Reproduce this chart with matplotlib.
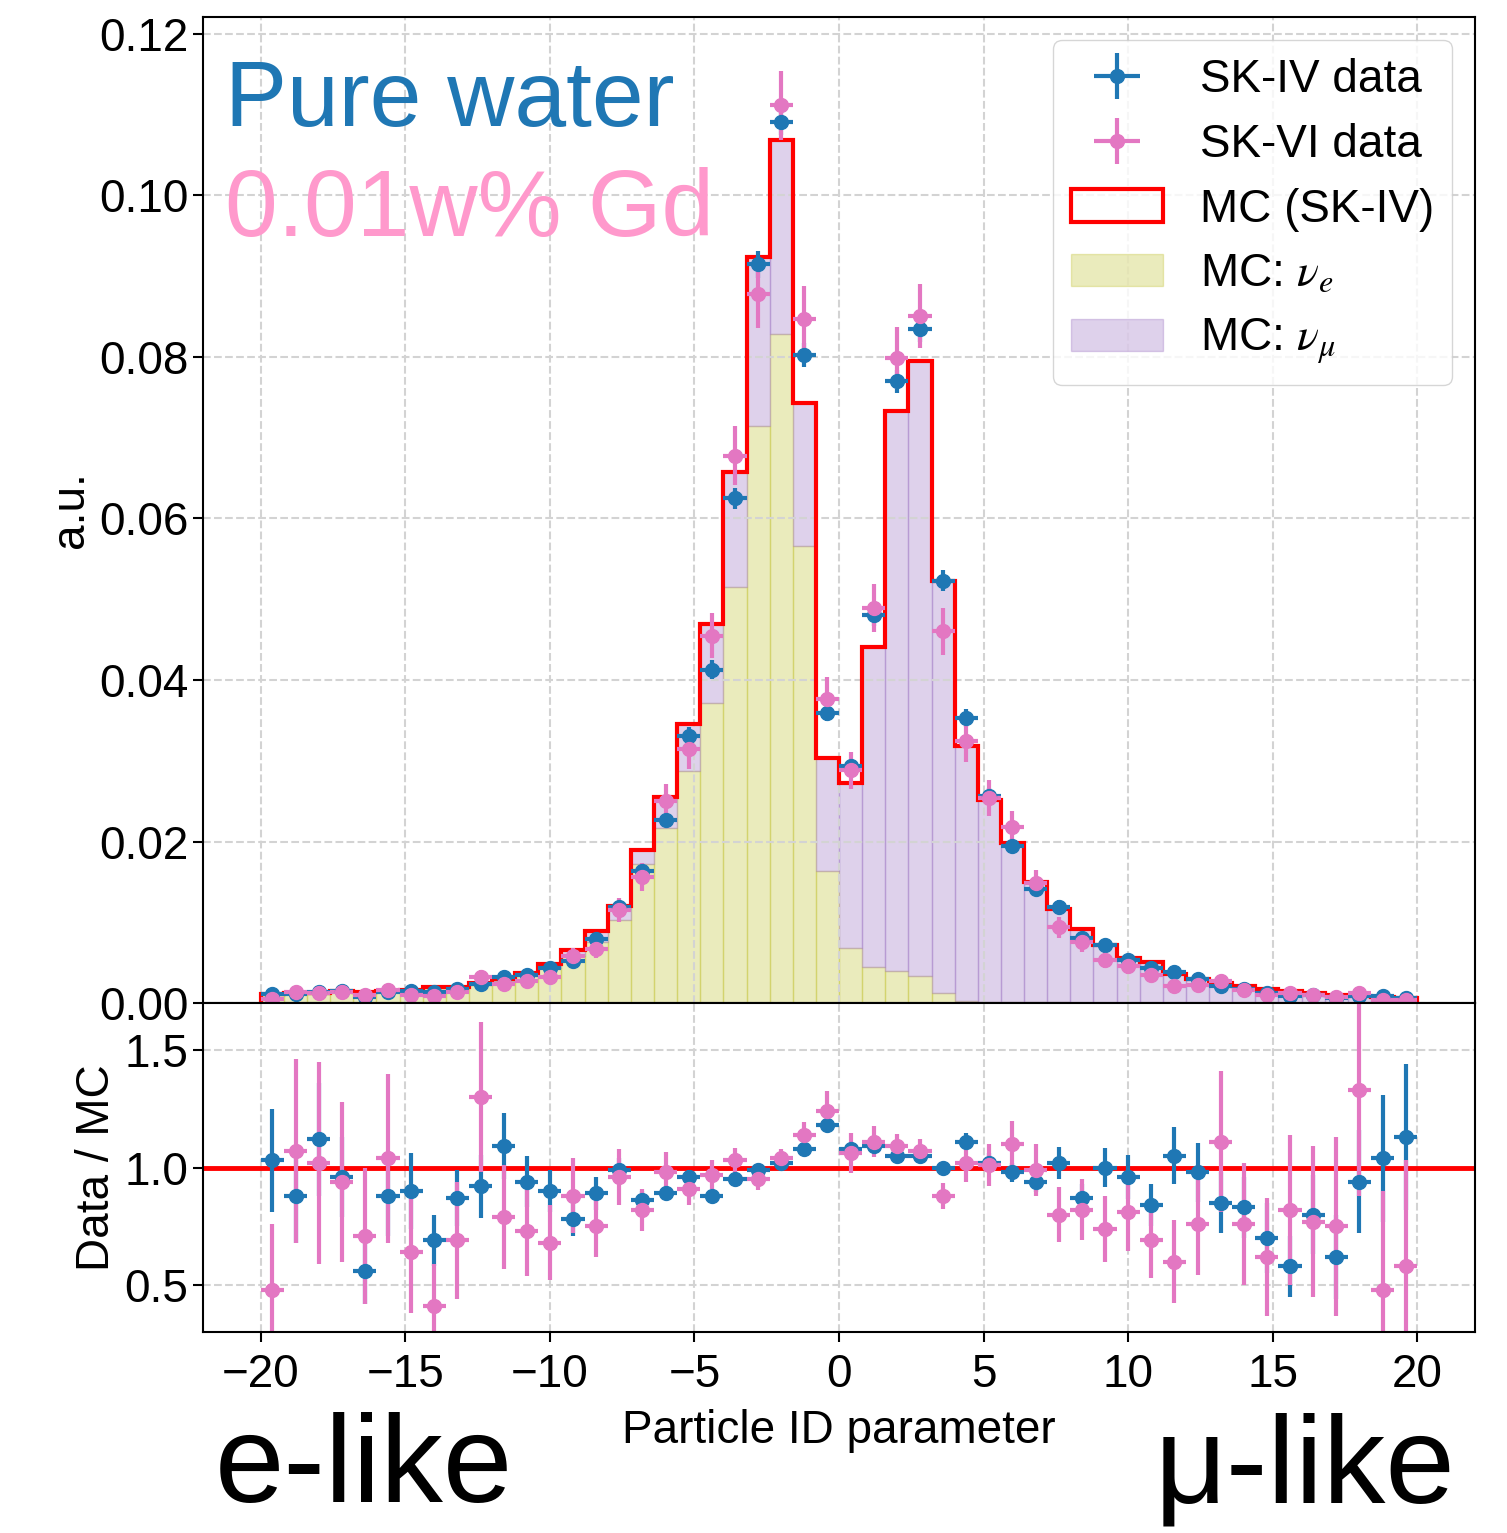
import numpy as np
import matplotlib.pyplot as plt

plt.rcParams['font.family'] = ['Liberation Sans', 'DejaVu Sans']
plt.rcParams['mathtext.fontset'] = 'stix'

# 50 bins of PID parameter from -20 to 20
bin_edges = np.linspace(-20, 20, 51)

# MC (SK-IV) total and nu_e part, normalised
mc_total = [0.0011, 0.0013, 0.0012, 0.0015, 0.0014, 0.0015, 0.0016, 0.0020, 0.0020, 0.0025,
            0.0030, 0.0037, 0.0048, 0.0066, 0.0089, 0.0120, 0.0190, 0.0255, 0.0345, 0.0469,
            0.0658, 0.0924, 0.1069, 0.0743, 0.0304, 0.0272, 0.0441, 0.0733, 0.0795, 0.0523,
            0.0318, 0.0251, 0.0198, 0.0150, 0.0117, 0.0092, 0.0072, 0.0056, 0.0051, 0.0036,
            0.0030, 0.0025, 0.0021, 0.0017, 0.0015, 0.0013, 0.0010, 0.0009, 0.0008, 0.0006]
mc_nue = [0.0010, 0.0012, 0.0011, 0.0014, 0.0013, 0.0014, 0.0015, 0.0018, 0.0018, 0.0022,
          0.0027, 0.0033, 0.0043, 0.0058, 0.0076, 0.0103, 0.0172, 0.0217, 0.0287, 0.0371,
          0.0515, 0.0714, 0.0828, 0.0566, 0.0164, 0.0068, 0.0045, 0.0040, 0.0034, 0.0013,
          0.0003, 0.0001, 0.0001, 0.0001, 0.0001, 0.0, 0.0, 0.0, 0.0, 0.0,
          0.0, 0.0, 0.0, 0.0, 0.0, 0.0, 0.0, 0.0, 0.0, 0.0]

# Data / MC ratios and their errors
ratio_sk4 = [1.03, 0.88, 1.12, 0.96, 0.56, 0.88, 0.90, 0.69, 0.87, 0.92,
             1.09, 0.94, 0.90, 0.78, 0.89, 0.99, 0.86, 0.89, 0.96, 0.88,
             0.95, 0.99, 1.02, 1.08, 1.18, 1.08, 1.09, 1.05, 1.05, 1.00,
             1.11, 1.02, 0.98, 0.94, 1.02, 0.87, 1.00, 0.96, 0.84, 1.05,
             0.98, 0.85, 0.83, 0.70, 0.58, 0.80, 0.62, 0.94, 1.04, 1.13]
err_sk4 = [0.22, 0.20, 0.24, 0.17, 0.14, 0.17, 0.16, 0.11, 0.12, 0.135,
           0.14, 0.11, 0.09, 0.07, 0.07, 0.05, 0.04, 0.03, 0.03, 0.025,
           0.02, 0.018, 0.015, 0.02, 0.03, 0.03, 0.03, 0.02, 0.02, 0.025,
           0.035, 0.04, 0.04, 0.045, 0.067, 0.06, 0.085, 0.094, 0.09, 0.122,
           0.125, 0.13, 0.13, 0.15, 0.13, 0.17, 0.18, 0.22, 0.27, 0.31]
ratio_sk6 = [0.48, 1.07, 1.02, 0.94, 0.71, 1.04, 0.64, 0.41, 0.69, 1.30,
             0.79, 0.73, 0.68, 0.88, 0.75, 0.96, 0.82, 0.98, 0.91, 0.97,
             1.03, 0.95, 1.04, 1.14, 1.24, 1.06, 1.11, 1.09, 1.07, 0.88,
             1.02, 1.01, 1.10, 0.99, 0.80, 0.82, 0.74, 0.81, 0.69, 0.60,
             0.76, 1.11, 0.76, 0.62, 0.82, 0.77, 0.75, 1.33, 0.48, 0.58]
err_sk6 = [0.28, 0.39, 0.43, 0.34, 0.29, 0.36, 0.26, 0.18, 0.25, 0.32,
           0.22, 0.19, 0.16, 0.16, 0.13, 0.12, 0.09, 0.085, 0.07, 0.06,
           0.055, 0.045, 0.04, 0.055, 0.087, 0.085, 0.067, 0.052, 0.05, 0.056,
           0.08, 0.088, 0.10, 0.11, 0.115, 0.13, 0.14, 0.167, 0.16, 0.176,
           0.218, 0.30, 0.26, 0.25, 0.32, 0.32, 0.38, 0.45, 0.42, 0.45]

centers = 0.5 * (bin_edges[1:] + bin_edges[:-1])
half_w = 0.5 * (bin_edges[1] - bin_edges[0])
mc = np.array(mc_total)
nue = np.array(mc_nue)
numu = mc - nue
data_sk4 = np.array(ratio_sk4) * mc
data_sk6 = np.array(ratio_sk6) * mc
derr_sk4 = np.array(err_sk4) * mc
derr_sk6 = np.array(err_sk6) * mc

fs = 33
fig = plt.figure(figsize=(15.07, 15.33), dpi=100)
gs = fig.add_gridspec(2, 1, height_ratios=[986, 329], hspace=0,
                      left=0.1347, right=0.9788, top=0.9889, bottom=0.1311)
ax = fig.add_subplot(gs[0])
ax2 = fig.add_subplot(gs[1], sharex=ax)

# stacked MC components
colors = ['tab:olive', 'tab:purple']
_, _, stacks = ax.hist([centers, centers], bins=bin_edges, weights=[nue, numu], stacked=True,
                       color=colors, alpha=0.3, label=['MC: $\\nu_e$', 'MC: $\\nu_\\mu$'])
for cont, c in zip(stacks, colors):
    for p in cont:
        p.set_edgecolor(c)
        p.set_linewidth(1)
_, _, step = ax.hist(centers, bins=bin_edges, weights=mc, histtype='step', color='red',
                     lw=3, label='MC (SK-IV)')

h4 = ax.errorbar(centers, data_sk4, xerr=half_w, yerr=derr_sk4, fmt='o', color='tab:blue',
                 ms=10, elinewidth=3, label='SK-IV data')
h6 = ax.errorbar(centers, data_sk6, xerr=half_w, yerr=derr_sk6, fmt='o', color='tab:pink',
                 ms=10, elinewidth=3, label='SK-VI data')

ax.legend(handles=[h4, h6, step[0], stacks[0][0], stacks[1][0]], loc='upper right',
          fontsize=fs, labelspacing=0.45)

ax.text(0.017, 0.889, 'Pure water', transform=ax.transAxes, fontsize=67,
        color='tab:blue', va='baseline')
ax.text(0.017, 0.778, '0.01w% Gd', transform=ax.transAxes, fontsize=68,
        color='#ff99cc', va='baseline')

ax.set_xlim(-22, 22)
ax.set_ylim(0, 0.1221)
ax.set_yticks(np.arange(0, 0.121, 0.02))
ax.yaxis.set_major_formatter(plt.FormatStrFormatter('%.2f'))
ax.set_ylabel('a.u.', fontsize=fs)
ax.tick_params(axis='x', labelbottom=False, length=0)
ax.tick_params(axis='y', labelsize=fs, length=7, width=1.5)
ax.grid(True, ls='--', color='lightgray', lw=1.5)

# ratio panel
ax2.axhline(1.0, color='red', lw=3.5)
ax2.errorbar(centers, ratio_sk4, xerr=half_w, yerr=err_sk4, fmt='o', color='tab:blue',
             ms=10, elinewidth=3)
ax2.errorbar(centers, ratio_sk6, xerr=half_w, yerr=err_sk6, fmt='o', color='tab:pink',
             ms=10, elinewidth=3)
ax2.set_ylim(0.3, 1.7)
ax2.set_yticks([0.5, 1.0, 1.5])
ax2.set_xticks(np.arange(-20, 21, 5))
ax2.set_ylabel('Data / MC', fontsize=fs)
ax2.set_xlabel('Particle ID parameter', fontsize=fs, labelpad=9)
ax2.tick_params(labelsize=fs, length=7, width=1.5)
ax2.tick_params(axis='x', pad=8)
ax2.grid(True, ls='--', color='lightgray', lw=1.5)

for a in (ax, ax2):
    for s in a.spines.values():
        s.set_linewidth(1.5)

fig.text(0.1427, 0.003, 'e-like', fontsize=90, va='bottom', ha='left')
fig.text(0.9655, 0.003, 'μ-like', fontsize=90, va='bottom', ha='right')

fig.savefig('out.png', dpi=100)
